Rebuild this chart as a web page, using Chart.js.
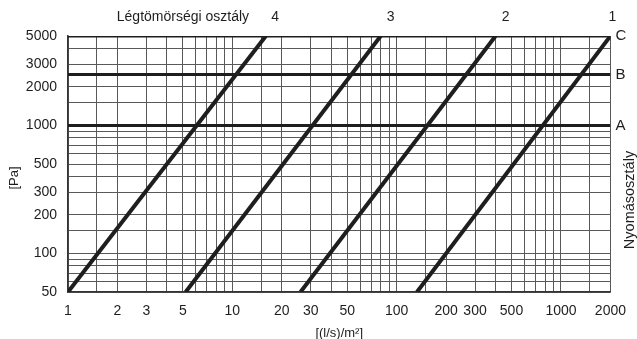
<!DOCTYPE html>
<html>
<head>
<meta charset="utf-8">
<script src="https://cdn.jsdelivr.net/npm/chart.js@4.4.1/dist/chart.umd.min.js"></script>
<style>
  html, body { margin: 0; padding: 0; background: #fff; }
  canvas { display: block; }
</style>
</head>
<body>
<canvas id="chart" width="637" height="339"></canvas>
<script>
// Légtömörségi osztályok: légáteresztés 50 Pa és 5000 Pa nyomásnál
const classNames = ['4', '3', '2', '1'];
const flowAt50 = [1.0, 5.2, 26, 133];
const flowAt5000 = [16, 80, 400, 2000];
const classLabelX = [18.2, 92, 460, 2057];

// Nyomásosztályok határai
const pressureClasses = ['A', 'B', 'C'];
const pressureLimits = [1000, 2500, 5000];

// Rácsvonalak és feliratozott osztásértékek
const xGridValues = [1, 1.5, 2, 3, 4, 5, 6, 7, 8, 9, 10, 15, 20, 30, 40, 50, 60, 70, 80, 90,
  100, 150, 200, 300, 400, 500, 600, 700, 800, 900, 1000, 1500, 2000];
const xTickLabels = [1, 2, 3, 5, 10, 20, 30, 50, 100, 200, 300, 500, 1000, 2000];
const yGridValues = [50, 60, 70, 80, 90, 100, 150, 200, 300, 400, 500, 600, 700, 800, 900,
  1000, 1500, 2000, 3000, 4000, 5000];
const yTickLabels = [50, 100, 200, 300, 500, 1000, 2000, 3000, 5000];

const FONT = '"Liberation Sans", Arial, Helvetica, sans-serif';
const INK = '#1e1e1e';
const GRID = '#595959';

const datasets = [];
classNames.forEach((name, i) => {
  datasets.push({
    label: name,
    data: [{ x: flowAt50[i], y: 50 }, { x: flowAt5000[i], y: 5000 }],
    borderColor: INK,
    borderWidth: 4,
    pointRadius: 0
  });
});
pressureClasses.forEach((name, i) => {
  datasets.push({
    label: name,
    data: [{ x: 1, y: pressureLimits[i] }, { x: 2000, y: pressureLimits[i] }],
    borderColor: INK,
    borderWidth: 3,
    pointRadius: 0
  });
});

// feliratok a rajzterület körül
const labelsPlugin = {
  id: 'labelsPlugin',
  afterDraw(chart) {
    const { ctx, chartArea, scales: { x, y } } = chart;
    ctx.save();
    ctx.fillStyle = INK;
    ctx.font = '14px ' + FONT;
    ctx.textBaseline = 'middle';

    // osztályszámok a vonalak felett
    ctx.textAlign = 'center';
    classNames.forEach((name, i) => {
      ctx.fillText(name, x.getPixelForValue(classLabelX[i]), chartArea.top - 19);
    });
    ctx.textAlign = 'right';
    ctx.fillText('Légtömörségi osztály', x.getPixelForValue(classLabelX[0]) - 26, chartArea.top - 19);

    // nyomásosztály betűjelek
    ctx.font = '15px ' + FONT;
    ctx.textAlign = 'left';
    pressureClasses.forEach((name, i) => {
      ctx.fillText(name, chartArea.right + 5, y.getPixelForValue(pressureLimits[i]));
    });

    // tengelycímek
    ctx.font = '13px ' + FONT;
    ctx.textAlign = 'center';
    ctx.fillText('[(l/s)/m²]', (chartArea.left + chartArea.right) / 2, chartArea.bottom + 41);

    ctx.save();
    ctx.translate(14, 178);
    ctx.rotate(-Math.PI / 2);
    ctx.fillText('[Pa]', 0, 0);
    ctx.restore();

    ctx.save();
    ctx.translate(630, 200);
    ctx.rotate(-Math.PI / 2);
    ctx.font = '14.5px ' + FONT;
    ctx.fillText('Nyomásosztály', 0, 0);
    ctx.restore();

    ctx.restore();
  }
};

new Chart(document.getElementById('chart'), {
  type: 'line',
  data: { datasets },
  options: {
    responsive: false,
    animation: false,
    devicePixelRatio: 1,
    layout: { padding: { top: 36, right: 21, left: 0, bottom: 0 } },
    plugins: { legend: { display: false }, tooltip: { enabled: false } },
    scales: {
      x: {
        type: 'logarithmic',
        min: 1,
        max: 2000,
        afterBuildTicks: s => { s.ticks = xGridValues.map(v => ({ value: v })); },
        afterFit: s => { s.height = 47; },
        ticks: {
          autoSkip: false,
          maxRotation: 0,
          padding: 11,
          color: INK,
          font: { size: 14, family: FONT },
          callback: v => xTickLabels.includes(v) ? String(v) : ''
        },
        grid: { color: GRID, lineWidth: 1, drawTicks: false },
        border: { color: '#333', width: 1.5 }
      },
      y: {
        type: 'logarithmic',
        min: 50,
        max: 5000,
        afterBuildTicks: s => { s.ticks = yGridValues.map(v => ({ value: v })); },
        afterFit: s => { s.width = 68; },
        ticks: {
          autoSkip: false,
          padding: 11,
          color: INK,
          font: { size: 14, family: FONT },
          callback: v => yTickLabels.includes(v) ? String(v) : ''
        },
        grid: { color: GRID, lineWidth: 1, drawTicks: false },
        border: { color: '#333', width: 1.5 }
      }
    }
  },
  plugins: [labelsPlugin]
});
</script>
</body>
</html>
